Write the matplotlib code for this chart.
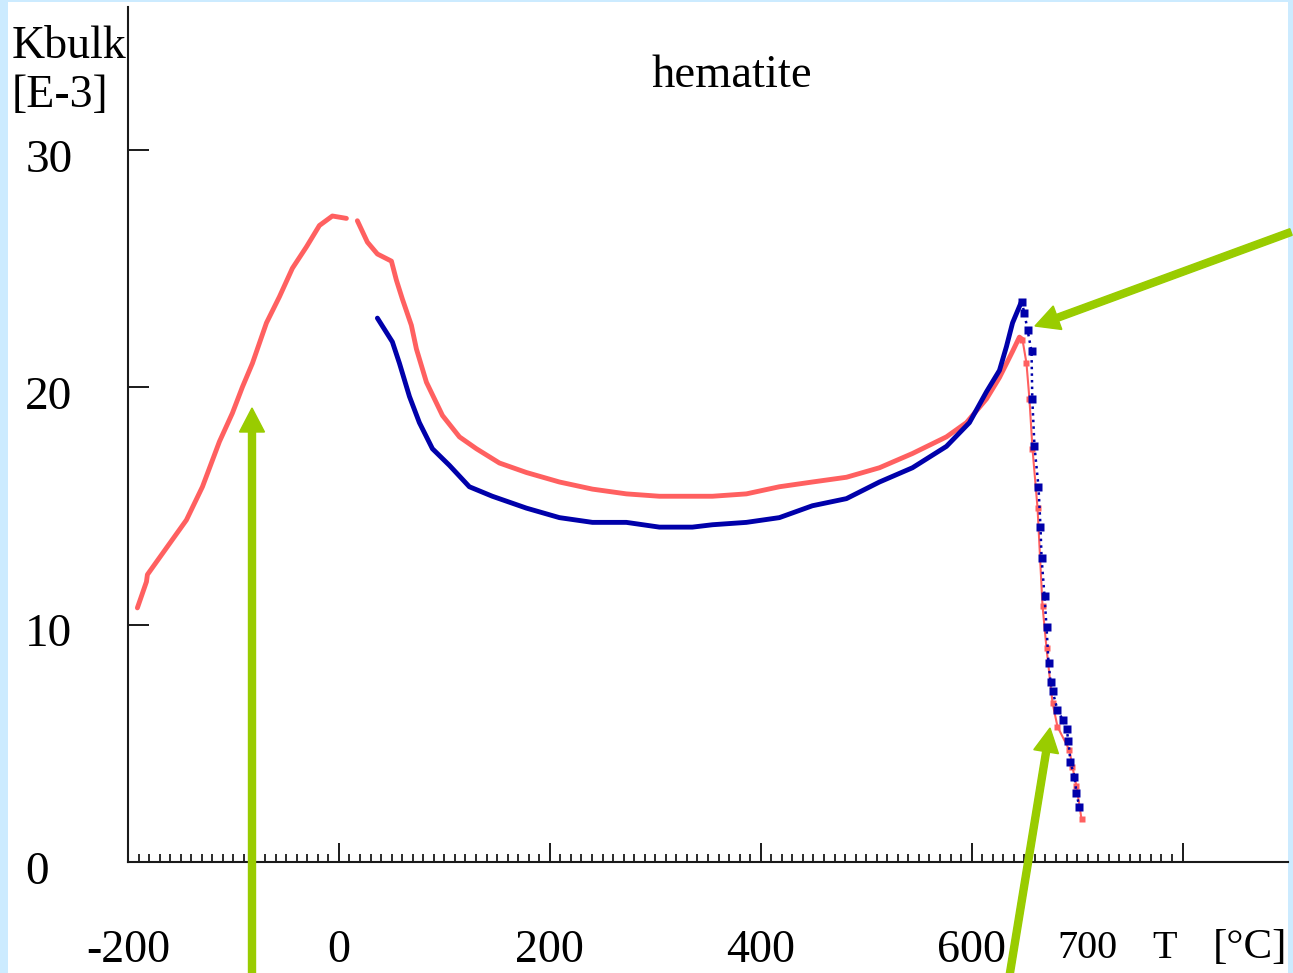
import numpy as np
import matplotlib
matplotlib.use("Agg")
import matplotlib.pyplot as plt
from matplotlib.ticker import FixedLocator
from matplotlib.transforms import ScaledTranslation, IdentityTransform
from matplotlib.patches import Rectangle, FancyArrow

plt.rcParams['font.family'] = ['Liberation Serif', 'DejaVu Serif']

# ---------------- data ----------------
T_red = [-191.1, -182.5, -181.6, -160.7, -144.6, -129.4, -113.3, -101.0, -91.5, -82.0,
         -68.7, -56.4, -44.1, -30.8, -18.5, -6.2, 7.1, 17.5, 27.0, 36.5,
         49.8, 54.5, 60.2, 68.7, 73.5, 83.0, 98.2, 114.3, 130.4, 152.2,
         177.8, 209.1, 240.4, 272.6, 303.9, 335.2, 354.2, 386.4, 417.7, 449.0,
         481.3, 512.6, 543.9, 576.1, 595.1, 614.1, 626.4, 638.8, 645.3, 648.2,
         652.0, 654.8, 657.7, 662.5, 667.2, 671.0, 676.7, 681.4, 692.8, 695.6,
         699.4, 704.2]
K_red = [10.7, 11.8, 12.1, 13.4, 14.4, 15.8, 17.7, 18.9, 20.0, 21.0,
         22.7, 23.8, 25.0, 25.9, 26.8, 27.2, 27.1, 27.0, 26.1, 25.6,
         25.3, 24.5, 23.7, 22.6, 21.6, 20.2, 18.8, 17.9, 17.4, 16.8,
         16.4, 16.0, 15.7, 15.5, 15.4, 15.4, 15.4, 15.5, 15.8, 16.0,
         16.2, 16.6, 17.2, 17.9, 18.5, 19.5, 20.4, 21.5, 22.1, 22.0,
         21.0, 19.5, 17.4, 14.9, 10.8, 9.0, 6.7, 5.7, 4.7, 4.0,
         3.2, 1.8]

T_blue = [36.5, 50.7, 57.4, 66.9, 76.3, 88.7, 104.8, 123.7, 145.5, 177.8,
          209.1, 240.4, 272.6, 303.9, 335.2, 354.2, 386.4, 417.7, 449.0, 481.3,
          512.6, 543.9, 576.1, 597.9, 614.1, 626.4, 633.0, 638.8, 647.3, 650.1,
          653.0, 656.8, 657.5, 659.6, 663.4, 665.3, 666.3, 669.1, 671.0, 672.9,
          674.8, 676.7, 681.4, 686.2, 690.0, 691.8, 693.7, 697.5, 699.4, 702.2]
K_blue = [22.9, 21.9, 21.0, 19.6, 18.5, 17.4, 16.7, 15.8, 15.4, 14.9,
          14.5, 14.3, 14.3, 14.1, 14.1, 14.2, 14.3, 14.5, 15.0, 15.3,
          16.0, 16.6, 17.5, 18.5, 19.8, 20.7, 21.7, 22.7, 23.6, 23.1,
          22.4, 21.5, 19.5, 17.5, 15.8, 14.1, 12.8, 11.2, 9.9, 8.4,
          7.6, 7.2, 6.4, 6.0, 5.6, 5.1, 4.2, 3.6, 2.9, 2.3]

x_ticks = [-200, 0, 200, 400, 600, 800]
x_ticklabels = ['-200', '0', '200', '400', '600', '']
y_ticks = [0, 10, 20, 30]
y_ticklabels = ['0', '10', '20', '30']

RED = '#FF6060'
BLUE = '#0000AA'
GREEN = '#99CC00'
BORDER = '#CCEBFF'

# ---------------- figure ----------------
W, H = 1293, 973
fig = plt.figure(figsize=(W / 100, H / 100), dpi=100, facecolor=BORDER)
fig.add_artist(Rectangle((8, -5), 1280, 971 + 5, transform=IdentityTransform(),
                         facecolor='white', edgecolor='none', zorder=-1))

ax = fig.add_axes([128 / W, 111 / H, 1160 / W, 855 / H])
ax.patch.set_alpha(0)
ax.set_xlim(-200, 900)
ax.set_ylim(0, 36)
for s in ['top', 'right']:
    ax.spines[s].set_visible(False)
for s in ['left', 'bottom']:
    ax.spines[s].set_color('#1a1a1a')
    ax.spines[s].set_linewidth(1.5)

Tr = np.array(T_red); Kr = np.array(K_red)
Tb = np.array(T_blue); Kb = np.array(K_blue)

mA = Tr <= 7.1
mB = (Tr >= 17.5) & (Tr <= 648.2)
mC = Tr >= 648.2
ax.plot(Tr[mA], Kr[mA], color=RED, lw=3.5, solid_joinstyle='round', solid_capstyle='round', zorder=3)
ax.plot(Tr[mB], Kr[mB], color=RED, lw=3.5, solid_joinstyle='round', solid_capstyle='round', zorder=3)
ax.plot(Tr[mC], Kr[mC], color=RED, lw=1.5, marker='s', ms=4.5, mec='none', zorder=3)

nB = Tb <= 647.3
nC = Tb >= 647.3
ax.plot(Tb[nB], Kb[nB], color=BLUE, lw=3.5, solid_joinstyle='round', solid_capstyle='round', zorder=4)
ax.plot(Tb[nC], Kb[nC], color=BLUE, lw=1.8, ls=':', marker='s', ms=5.2, mec='none', zorder=4)

# ticks
ax.xaxis.set_major_locator(FixedLocator(x_ticks))
ax.xaxis.set_minor_locator(FixedLocator(np.arange(-200, 801, 10)))
ax.set_xticklabels(x_ticklabels)
ax.tick_params(axis='x', which='major', direction='in', length=13.7, width=1.4,
               pad=72, labelsize=33, color='#1a1a1a')
ax.tick_params(axis='x', which='minor', direction='in', length=6.0, width=1.3, color='#1a1a1a')
for lab in ax.get_xticklabels():
    lab.set_va('baseline')

ax.set_yticks(y_ticks)
ax.set_yticklabels(y_ticklabels)
ax.tick_params(axis='y', which='major', direction='in', length=15, width=1.4,
               pad=74, labelsize=34, color='#1a1a1a')
off = ScaledTranslation(0, -0.22, fig.dpi_scale_trans)
for lab in ax.get_yticklabels():
    lab.set_ha('left')
    lab.set_va('baseline')
    lab.set_transform(lab.get_transform() + off)

# extra x label 700
ax.annotate('700', xy=(700, 0), xycoords='data', xytext=(10, -(958 - 862)),
            textcoords='offset pixels', ha='center', va='baseline', fontsize=29,
            color='black')

# axis labels / title
fig.text(12 / W, (H - 58) / H, 'Kbulk', fontsize=33, va='baseline', ha='left')
fig.text(12 / W, (H - 107) / H, '[E-3]', fontsize=33, va='baseline', ha='left')
fig.text(732 / W, (H - 87) / H, 'hematite', fontsize=33.5, va='baseline', ha='center')
fig.text(1165 / W, (H - 958) / H, 'T', fontsize=29, va='baseline', ha='center')
fig.text(1250 / W, (H - 958) / H, '[°C]', fontsize=31, va='baseline', ha='center')

# green arrows (figure pixels, origin bottom-left)
def arrow(x0, y0, x1, y1):
    a = FancyArrow(x0, H - y0, x1 - x0, (H - y1) - (H - y0), width=7, head_width=25,
                   head_length=24, length_includes_head=True, color=GREEN,
                   transform=IdentityTransform(), zorder=10)
    fig.add_artist(a)

arrow(252, 985, 252, 408)
arrow(1291, 232, 1035, 326)
arrow(1008, 985, 1050, 728)

fig.savefig('out.png', dpi=100, facecolor=BORDER)
